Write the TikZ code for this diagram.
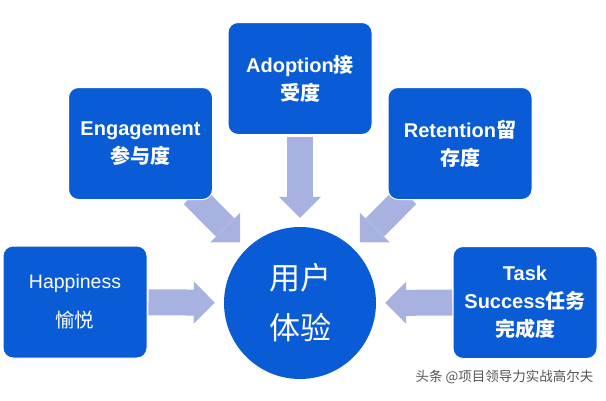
\documentclass[tikz,border=0pt]{standalone}
\usepackage{fontspec}
\setmainfont{Liberation Sans}
\newfontfamily\cjk{Noto Sans CJK SC}
\usetikzlibrary{arrows.meta, backgrounds, calc}
\definecolor{boxblue}{RGB}{10,92,214}
\definecolor{flowblue}{RGB}{168,178,224}
\definecolor{markgray}{RGB}{85,85,85}

\begin{document}
\begin{tikzpicture}[x=1pt, y=-1pt,
  metric/.style={rounded corners=10pt, fill=boxblue, draw=white, line width=1pt, minimum width=144pt, minimum height=112pt, inner sep=0pt, align=center, text=white, font=\fontsize{20}{28}\selectfont\bfseries},
  hub/.style={circle, fill=boxblue, minimum size=152pt, inner sep=0pt, align=center, text=white, font=\cjk\fontsize{31}{50}\selectfont},
  flow/.style={draw=flowblue, line width=26pt, -{Triangle[length=21pt, width=42pt, line width=0pt]}, shorten >=9pt}]
\useasboundingbox (0,0) rectangle (606,400);
\node[hub]    (UX)    at (300,303)   {用户\\体验};
\node[metric, font=\fontsize{19.5}{39}\selectfont] (HAPPY) at (75,302) {Happiness\\{\cjk 愉悦}};
\node[metric] (ENGAGE) at (140.5,143.5) {Engagement\\{\cjk 参与度}};
\node[metric] (ADOPT)  at (300,78.5)    {Adoption{\cjk 接}\\{\cjk 受度}};
\node[metric] (RETAIN) at (460,143.5)   {Retention{\cjk 留}\\{\cjk 存度}};
\node[metric] (TASK)   at (525,302.5)   {Task\\Success{\cjk 任务}\\{\cjk 完成度}};
\coordinate (ENGfoot) at ($(UX)+(-107,-108)$);
\coordinate (RETfoot) at ($(UX)+(107,-108)$);
% block arrows sit behind the boxes
\begin{scope}[on background layer]
\draw[flow, shorten <=1pt] (HAPPY) -- (UX);
\draw[flow, shorten <=2pt] (ADOPT) -- (UX);
\draw[flow] (TASK) -- (UX);
\draw[flow] (ENGfoot) -- (UX);
\draw[flow] (RETfoot) -- (UX);
\end{scope}
\node[font=\cjk\fontsize{13.5}{16}\selectfont, text=markgray, anchor=east] (MARK) at (597,377) {头条 @项目领导力实战高尔夫};
\end{tikzpicture}
\end{document}
